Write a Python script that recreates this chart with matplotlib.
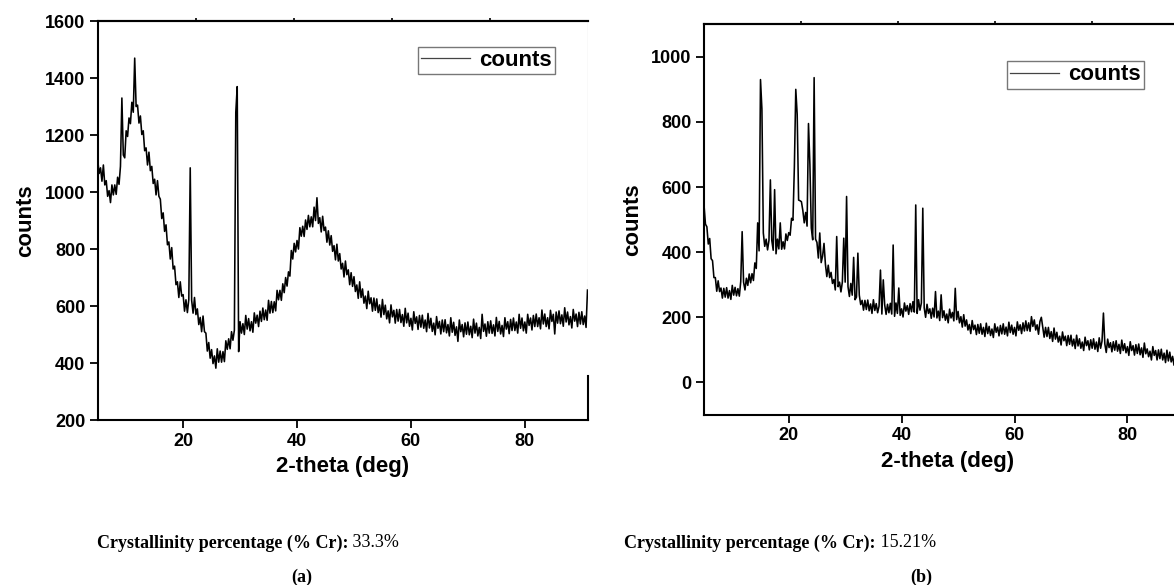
import numpy as np
import matplotlib.pyplot as plt

plt.rcParams['font.family'] = ['Liberation Sans', 'DejaVu Sans']
plt.rcParams['font.weight'] = 'bold'

# 2-theta grid, 0.25 deg steps
theta_a = np.arange(5, 91.01, 0.25)
counts_a = [
    1115, 1065, 1085, 1038, 1095, 1025, 1040, 985, 1005, 963, 1025, 990,
    1025, 992, 1052, 1027, 1090, 1330, 1130, 1120, 1215, 1195, 1260, 1240,
    1315, 1280, 1470, 1300, 1305, 1242, 1267, 1202, 1215, 1145, 1155, 1095,
    1140, 1075, 1090, 1030, 1045, 990, 1040, 985, 975, 907, 927, 862,
    885, 815, 825, 765, 805, 730, 740, 675, 685, 630, 685, 635,
    640, 582, 622, 577, 623, 1085, 620, 575, 630, 570, 590, 535,
    560, 510, 565, 510, 505, 442, 472, 417, 447, 398, 425, 382,
    450, 403, 442, 403, 440, 405, 478, 448, 485, 450, 510, 480,
    515, 1280, 1370, 440, 545, 505, 538, 500, 567, 519, 556, 513,
    545, 508, 576, 540, 568, 528, 582, 546, 593, 552, 586, 550,
    620, 575, 616, 577, 615, 583, 655, 622, 655, 620, 678, 647,
    700, 670, 720, 705, 795, 765, 820, 790, 830, 800, 875, 845,
    880, 844, 902, 869, 918, 878, 913, 878, 947, 900, 980, 890,
    910, 860, 915, 865, 877, 824, 864, 814, 847, 792, 812, 762,
    817, 758, 784, 730, 750, 702, 758, 710, 727, 675, 717, 669,
    703, 651, 674, 627, 685, 630, 660, 610, 635, 591, 652, 608,
    629, 582, 628, 585, 625, 577, 604, 561, 623, 570, 603, 555,
    583, 541, 604, 562, 585, 540, 588, 547, 588, 542, 570, 529,
    592, 541, 575, 529, 557, 516, 580, 539, 562, 518, 567, 526,
    568, 522, 551, 510, 574, 523, 557, 511, 540, 499, 563, 522,
    546, 502, 551, 510, 552, 506, 535, 495, 559, 508, 543, 497,
    527, 476, 551, 510, 535, 492, 541, 501, 544, 499, 529, 489,
    554, 505, 540, 495, 525, 486, 571, 511, 537, 494, 545, 505,
    548, 504, 534, 495, 560, 511, 546, 502, 532, 493, 559, 519,
    545, 503, 553, 514, 558, 514, 544, 505, 571, 522, 558, 513,
    544, 505, 571, 532, 558, 516, 567, 528, 572, 528, 559, 520,
    586, 537, 572, 528, 559, 520, 585, 546, 571, 502, 579, 540,
    583, 538, 569, 529, 594, 544, 579, 534, 563, 523, 588, 547,
    572, 528, 578, 537, 580, 535, 565, 525, 656,
]

theta_b = np.arange(5, 91.01, 0.25)
counts_b = [
    543, 486, 478, 425, 442, 380, 374, 322, 322, 280, 312, 279,
    290, 259, 289, 262, 291, 259, 282, 255, 298, 268, 292, 266,
    288, 265, 310, 463, 308, 284, 320, 298, 333, 306, 334, 313,
    367, 350, 490, 404, 930, 840, 459, 418, 440, 407, 436, 622,
    436, 406, 592, 395, 440, 410, 490, 409, 432, 410, 456, 436,
    460, 452, 504, 498, 662, 900, 823, 560, 558, 555, 528, 490,
    522, 480, 795, 670, 474, 438, 936, 440, 430, 382, 459, 368,
    388, 427, 363, 325, 360, 322, 338, 304, 316, 284, 448, 294,
    308, 278, 308, 443, 308, 571, 294, 264, 304, 268, 384, 254,
    262, 397, 268, 239, 252, 222, 252, 224, 253, 220, 241, 212,
    254, 221, 242, 214, 234, 345, 210, 315, 238, 209, 240, 214,
    243, 210, 422, 203, 244, 212, 290, 206, 226, 201, 244, 219,
    236, 209, 242, 217, 248, 216, 545, 212, 254, 222, 244, 535,
    229, 200, 240, 212, 226, 197, 228, 201, 279, 198, 219, 190,
    269, 199, 220, 191, 210, 183, 225, 198, 215, 189, 289, 193,
    218, 183, 202, 170, 208, 173, 192, 161, 178, 150, 190, 162,
    176, 147, 178, 151, 180, 148, 169, 141, 182, 150, 172, 144,
    164, 138, 180, 154, 170, 143, 175, 149, 180, 148, 170, 143,
    185, 153, 176, 148, 169, 143, 186, 160, 177, 150, 183, 158,
    189, 159, 183, 157, 202, 172, 192, 161, 177, 148, 187, 200,
    170, 139, 169, 141, 169, 135, 156, 126, 167, 133, 154, 124,
    142, 115, 155, 128, 142, 113, 144, 117, 145, 112, 133, 104,
    145, 112, 134, 105, 124, 98, 139, 113, 128, 100, 131, 105,
    134, 102, 124, 95, 137, 105, 127, 213, 118, 92, 133, 107,
    122, 94, 125, 99, 128, 96, 117, 89, 130, 98, 119, 91,
    110, 83, 125, 98, 113, 84, 116, 89, 118, 85, 106, 77,
    121, 88, 103, 79, 96, 69, 110, 83, 98, 69, 100, 73,
    102, 69, 90, 61, 99, 66, 93, 63, 80, 53, 94, 67,
    82, 53, 84, 57, 86, 53, 74, 45, 64,
]

fig = plt.figure(figsize=(11.74, 5.85), dpi=100)
ax1 = fig.add_axes([0.0832, 0.282, 0.4177, 0.682])
ax2 = fig.add_axes([0.5997, 0.2906, 0.414, 0.668])


def style(ax, x, y, ylim, yticks, leg_anchor):
    line, = ax.plot(x, y, color='black', lw=1.15, label='counts')
    ax.set_xlim(5, 91.1)
    ax.set_ylim(*ylim)
    ax.set_yticks(yticks)
    ax.set_xticks([20, 40, 60, 80])
    ax.tick_params(direction='out', length=6, width=1.3, labelsize=13, pad=3)
    for s in ['left', 'bottom', 'top']:
        ax.spines[s].set_linewidth(1.5)
    ax.spines['right'].set_visible(False)
    top = ax.secondary_xaxis('top')
    top.set_xticks([22.2, 39.4, 56.6, 73.8])
    top.tick_params(direction='out', length=2.5, width=1.2, labeltop=False)
    top.spines['top'].set_linewidth(1.5)
    ax.set_xlabel('2-theta (deg)', fontsize=16, fontweight='bold', labelpad=5)
    ax.set_ylabel('counts', fontsize=16, fontweight='bold', labelpad=6)
    leg = ax.legend(handles=[line], loc='upper right', bbox_to_anchor=leg_anchor,
                    fancybox=False, borderaxespad=0, borderpad=0.15,
                    handlelength=2.2, handletextpad=0.4,
                    prop={'size': 16, 'weight': 'bold'})
    leg.get_frame().set_edgecolor('#555555')
    leg.get_frame().set_linewidth(1.0)
    leg.legend_handles[0].set_color('#444444')
    leg.legend_handles[0].set_linewidth(0.9)
    return ax


style(ax1, theta_a, counts_a, (200, 1600), range(200, 1601, 200), (0.933, 0.936))
style(ax2, theta_b, counts_b, (-100, 1100), range(0, 1001, 200), (0.905, 0.906))

# partial right frame of panel (a)
ax1.spines['right'].set_visible(True)
ax1.spines['right'].set_linewidth(1.5)
ax1.spines['right'].set_bounds(200, 355)
ax1.axvline(91.1, ymin=(656 - 200) / 1400, ymax=1, color='#999999', lw=0.8)

captions = [
    (97 / 1174, '33.3%', 302 / 1174, '(a)'),
    (624 / 1174, '15.21%', 921 / 1174, '(b)'),
]
fig.canvas.draw()
renderer = fig.canvas.get_renderer()
for x0, val, xc, tag in captions:
    t = fig.text(x0, 0.072, 'Crystallinity percentage (% Cr):', family='Liberation Serif',
                 fontweight='bold', fontsize=13, va='center', ha='left')
    bb = t.get_window_extent(renderer)
    fig.text(bb.x1 / fig.bbox.width, 0.072, ' ' + val, family='Liberation Serif',
             fontweight='normal', fontsize=13, va='center', ha='left')
    fig.text(xc, 0.0137, tag, family='Liberation Serif', fontweight='bold',
             fontsize=13, va='center', ha='center')

fig.savefig('out.png', dpi=100)
